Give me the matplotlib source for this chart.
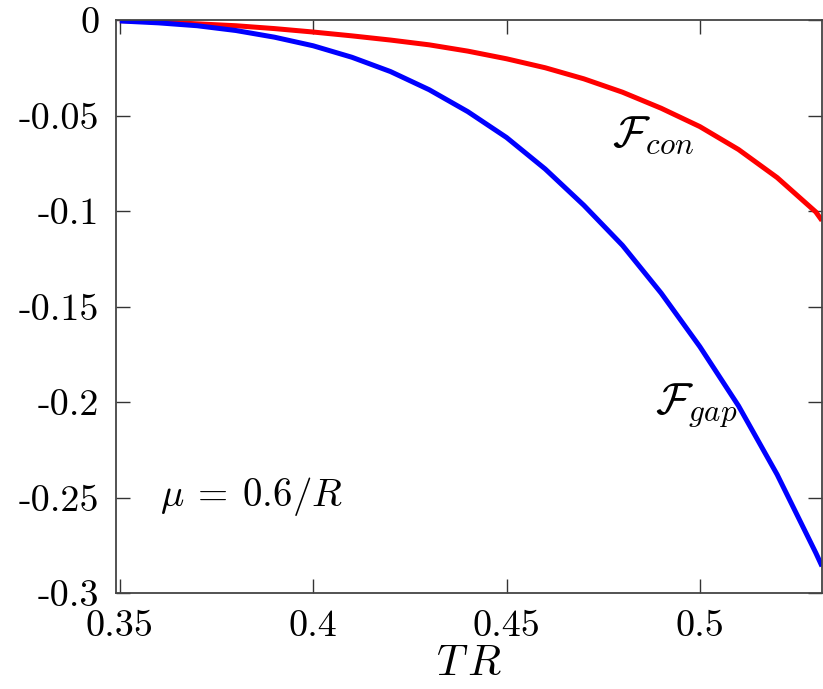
import matplotlib
matplotlib.use("Agg")
import matplotlib.pyplot as plt
import numpy as np

TR = [0.35, 0.36, 0.37, 0.38, 0.39, 0.40, 0.41, 0.42, 0.43, 0.44, 0.45,
      0.46, 0.47, 0.48, 0.49, 0.50, 0.51, 0.52, 0.53, 0.5316]
F_gap = [-0.0005, -0.0015, -0.003, -0.0055, -0.009, -0.0135, -0.0195, -0.027,
         -0.0365, -0.048, -0.0615, -0.078, -0.097, -0.118, -0.143, -0.171,
         -0.202, -0.238, -0.279, -0.286]
F_con = [-0.0003, -0.001, -0.002, -0.003, -0.0045, -0.0063, -0.0083, -0.0105,
         -0.013, -0.0163, -0.0203, -0.025, -0.0308, -0.0378, -0.0462, -0.0558,
         -0.0678, -0.0825, -0.1005, -0.105]

xticks = [0.35, 0.4, 0.45, 0.5]
xticklabels = ["0.35", "0.4", "0.45", "0.5"]
yticks = [0, -0.05, -0.1, -0.15, -0.2, -0.25, -0.3]
yticklabels = ["0", "-0.05", "-0.1", "-0.15", "-0.2", "-0.25", "-0.3"]

plt.rcParams['mathtext.fontset'] = 'cm'
plt.rcParams['font.family'] = ['cmr10', 'DejaVu Serif']
plt.rcParams['axes.unicode_minus'] = False

fig = plt.figure(figsize=(8.23, 6.89), dpi=100)
ax = fig.add_axes([116/823, 1-593/689, (822-116)/823, (593-20)/689])

ax.plot(TR, F_con, color='#ff0000', lw=3.6, solid_capstyle='butt')
ax.plot(TR, F_gap, color='#0000ff', lw=3.6, solid_capstyle='butt')

ax.set_xlim(0.349, 0.5316)
ax.set_ylim(-0.3, 0)
ax.set_xticks(xticks)
ax.set_xticklabels(xticklabels)
ax.set_yticks(yticks)
ax.set_yticklabels(yticklabels)
ax.tick_params(direction='in', length=10, width=1, labelsize=27.5,
               top=True, right=True, colors='#333333', labelcolor='black')
ax.tick_params(axis='x', pad=12)
ax.tick_params(axis='y', pad=12)
for s in ax.spines.values():
    s.set_color('#444444')
    s.set_linewidth(1.3)

ax.set_xlabel(r'$T\,R$', fontsize=31, labelpad=2)

ax.text(0.4772, -0.060, r'$\mathcal{F}_{con}$', fontsize=32, ha='left', va='center')
ax.text(0.4883, -0.2016, r'$\mathcal{F}_{gap}$', fontsize=32, ha='left', va='center')
ax.text(0.3603, -0.2497, r'$\mu\:=\:0.6/R$', fontsize=28, ha='left', va='center')

fig.savefig('out.png', dpi=100)
